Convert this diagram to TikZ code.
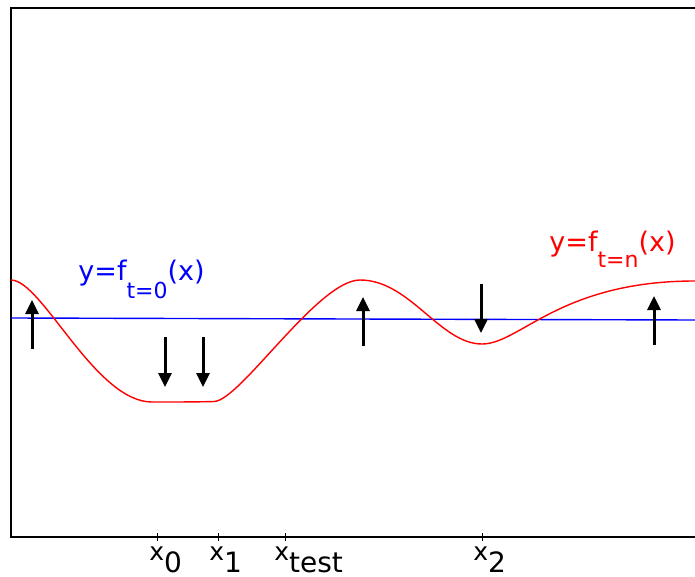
\documentclass[tikz,border=0pt]{standalone}
\usepackage{fontspec}
\setmainfont{DejaVu Sans}
\usetikzlibrary{arrows.meta}

\newcommand\xsub[1]{x\raisebox{-6pt}{\fontsize{14pt}{16pt}\selectfont #1}}
\newcommand\fsub[2]{y=f\raisebox{-#2}{\fontsize{11pt}{13pt}\selectfont #1}(x)}

\begin{document}
\begin{tikzpicture}[x=0.5pt, y=-0.5pt, >={Triangle[width=6.5pt,length=7pt]}]
\useasboundingbox (0,0) rectangle (695,577);
\tikzset{
  tick label/.style={anchor=base west, inner sep=0pt, font=\fontsize{12.5pt}{15pt}\selectfont},
  curve label/.style={anchor=base west, inner sep=0pt, font=\fontsize{13.5pt}{16pt}\selectfont},
  push/.style={->, line width=1.5pt}
}
% axes frame (right side cut off)
\draw[line width=0.6pt] (695,8) -- (11,8) -- (11,537) -- (695,537);
\foreach \t in {157,218,285,482}
  \draw[line width=0.5pt] (\t,533) -- (\t,541);
\node[tick label] (lab0) at (149,560) {\xsub{0}};
\node[tick label] (lab1) at (209,560) {\xsub{1}};
\node[tick label] (labtest) at (274,560) {\xsub{test}};
\node[tick label] (lab2) at (473,560) {\xsub{2}};

% initial function
\draw[blue, line width=0.7pt] (11,318) -- (695,320);
\node[curve label, blue] (f0) at (78,280) {\fsub{t=0}{9pt}};

% trained function
\draw[red, line width=0.7pt] (11,280)
  .. controls (42,280) and (95,402) .. (152,402)
  .. controls (175,402) and (198,402) .. (214,401.5)
  .. controls (240,401) and (318,280) .. (360,280)
  .. controls (410,280) and (440,344) .. (482,344)
  .. controls (520,344) and (560,281) .. (695,281);
\node[curve label, red] (fn) at (549,251) {\fsub{t=n}{8pt}};

% gradient pushes
\foreach \x/\a/\b in {32/349/300, 363/346/297, 654/345/296,
                      165/337/387, 203/337/387, 481/284/333}
  \draw[push] (\x,\a) -- (\x,\b);
\end{tikzpicture}
\end{document}
